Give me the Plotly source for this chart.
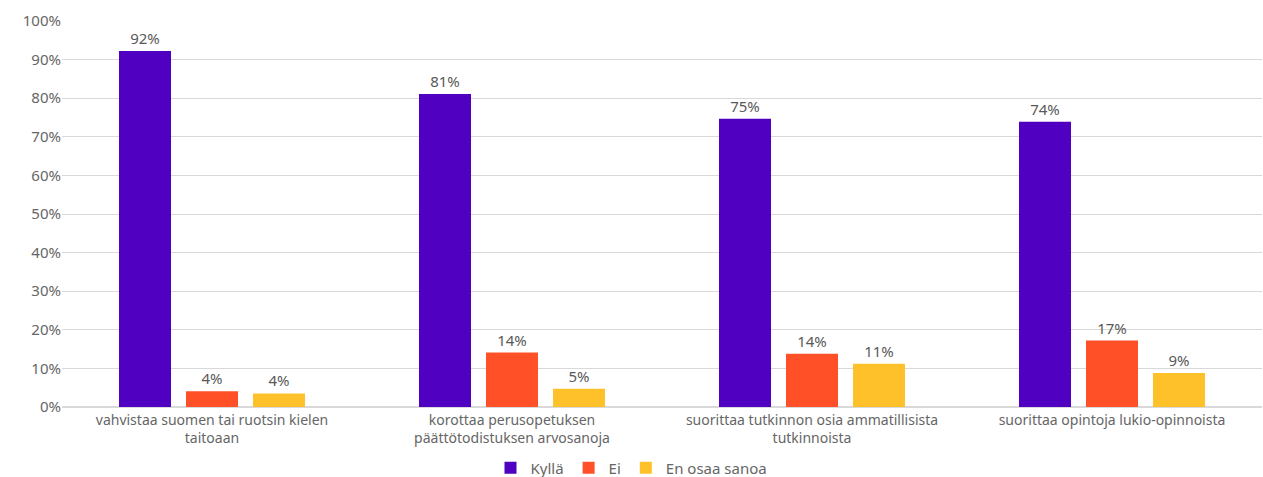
import plotly.graph_objects as go

categories = [
    "vahvistaa suomen tai ruotsin kielen<br>taitoaan",
    "korottaa perusopetuksen<br>päättötodistuksen arvosanoja",
    "suorittaa tutkinnon osia ammatillisista<br>tutkinnoista",
    "suorittaa opintoja lukio-opinnoista",
]
kylla = [92.2, 81.1, 74.7, 73.9]
ei = [4.1, 14.1, 13.8, 17.2]
en_osaa = [3.5, 4.7, 11.2, 8.8]

series = [("Kyllä", kylla, "#5000C0"), ("Ei", ei, "#FF5028"), ("En osaa sanoa", en_osaa, "#FFC12A")]

fig = go.Figure()
for name, vals, col in series:
    fig.add_trace(go.Bar(
        x=categories, y=vals, name=name, marker=dict(color=col, line=dict(width=0)),
        texttemplate="%{y:.0f}%", textposition="outside",
        textfont=dict(color="#595959", size=15), cliponaxis=False,
    ))

fig.update_layout(
    width=1263, height=477,
    margin=dict(l=62, r=1, t=21, b=70),
    plot_bgcolor="white", paper_bgcolor="white",
    font=dict(family="Noto Sans, sans-serif", color="#666666", size=14),
    barmode="group", bargap=0.33, bargroupgap=0.224,
    legend=dict(orientation="h", x=0.5, xanchor="center", xref="container",
                y=9 / 477, yref="container", yanchor="middle",
                font=dict(size=15, color="#666666"), itemwidth=30, traceorder="normal",
                tracegroupgap=0, bgcolor="rgba(0,0,0,0)"),
    showlegend=True,
)
fig.update_yaxes(range=[0, 100], dtick=10, ticksuffix="%", gridcolor="#D9D9D9",
                 zeroline=True, zerolinecolor="#D9D9D9", ticks="", automargin=False,
                 tickfont=dict(size=15, color="#666666"))
fig.update_xaxes(showline=True, linecolor="#D9D9D9", automargin=False,
                 tickfont=dict(size=14, color="#666666"))
fig.write_html(
    "out.html",
    config={"displayModeBar": False},
    post_script="document.body.style.margin='0';document.body.style.overflow='hidden';",
)
